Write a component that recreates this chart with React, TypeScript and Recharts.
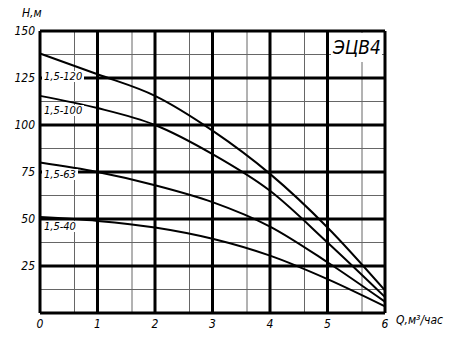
import React from "react";
import {
  LineChart,
  Line,
  XAxis,
  YAxis,
  CartesianGrid,
  ReferenceLine,
} from "recharts";

const flow = [0, 1, 2, 3, 4, 5, 6];
const head120 = [138, 127, 115.5, 97, 74, 45.5, 12];
const head100 = [115.5, 109, 100, 84.5, 65, 37.5, 8.5];
const head63 = [80, 75, 68, 59, 46, 27, 6];
const head40 = [51, 49, 45.5, 39.5, 30.5, 18, 3.5];

const xTicks = [0, 1, 2, 3, 4, 5, 6];
const yTicks = [25, 50, 75, 100, 125, 150];
const yMajor = [0, 25, 50, 75, 100, 125, 150];

// minor grid: 5 cells per unit of Q, 4 cells per 25 m of H
const xMinor = Array.from({ length: 31 }, (_, i) => i / 5);
const yMinor = Array.from({ length: 25 }, (_, i) => i * 6.25);

const data = flow.map((q, i) => ({
  q,
  h120: head120[i],
  h100: head100[i],
  h63: head63[i],
  h40: head40[i],
}));

const font = "'Liberation Sans Narrow', 'DejaVu Sans Condensed', 'Liberation Sans', sans-serif";

const labelStyle: React.CSSProperties = {
  position: "absolute",
  background: "#fff",
  fontFamily: font,
  fontStyle: "italic",
  fontSize: 11,
  lineHeight: "11px",
  padding: "0 2px",
  color: "#000",
  whiteSpace: "nowrap",
};

const curveLabels = [
  { text: "1,5-120", left: 42, top: 71 },
  { text: "1,5-100", left: 42, top: 105 },
  { text: "1,5-63", left: 42, top: 169 },
  { text: "1,5-40", left: 42, top: 221 },
];

const series = ["h120", "h100", "h63", "h40"];

export default function App() {
  return (
    <div
      style={{
        position: "absolute",
        left: 0,
        top: 0,
        width: 450,
        height: 344,
        background: "#fff",
      }}
    >
      <LineChart
        width={450}
        height={344}
        data={data}
        margin={{ top: 31, right: 65, left: 0, bottom: 0 }}
      >
        <CartesianGrid
          verticalValues={xMinor}
          horizontalValues={yMinor}
          stroke="#666"
          strokeWidth={1}
        />
        <XAxis
          dataKey="q"
          type="number"
          domain={[0, 6]}
          ticks={xTicks}
          height={31}
          axisLine={false}
          tickLine={false}
          tickSize={4}
          tickMargin={2}
          tick={{ fill: "#000", fontSize: 12, fontStyle: "italic", fontFamily: font }}
        />
        <YAxis
          type="number"
          domain={[0, 150]}
          ticks={yTicks}
          width={40}
          axisLine={false}
          tickLine={false}
          tickSize={4}
          tickMargin={1}
          tick={{ fill: "#000", fontSize: 12, fontStyle: "italic", fontFamily: font }}
        />
        {xTicks.map((x) => (
          <ReferenceLine key={"x" + x} x={x} stroke="#000" strokeWidth={3} />
        ))}
        {yMajor.map((y) => (
          <ReferenceLine key={"y" + y} y={y} stroke="#000" strokeWidth={3} />
        ))}
        {series.map((k) => (
          <Line
            key={k}
            dataKey={k}
            type="monotone"
            stroke="#000"
            strokeWidth={2}
            dot={false}
            isAnimationActive={false}
          />
        ))}
      </LineChart>

      {curveLabels.map((l) => (
        <div key={l.text} style={{ ...labelStyle, left: l.left, top: l.top }}>
          {l.text}
        </div>
      ))}

      <div
        style={{
          position: "absolute",
          left: 331,
          top: 33,
          width: 51,
          height: 29,
          background: "#fff",
        }}
      />
      <div
        style={{
          position: "absolute",
          left: 333,
          top: 34,
          fontFamily: font,
          fontStyle: "italic",
          fontSize: 19,
          lineHeight: "26px",
          color: "#000",
          whiteSpace: "nowrap",
        }}
      >
        ЭЦВ4
      </div>

      <div
        style={{
          position: "absolute",
          left: 22,
          top: 6,
          fontFamily: font,
          fontStyle: "italic",
          fontSize: 12,
          color: "#000",
        }}
      >
        H,м
      </div>
      <div
        style={{
          position: "absolute",
          left: 396,
          top: 313,
          fontFamily: font,
          fontStyle: "italic",
          fontSize: 12,
          color: "#000",
        }}
      >
        Q,м³/час
      </div>
    </div>
  );
}
